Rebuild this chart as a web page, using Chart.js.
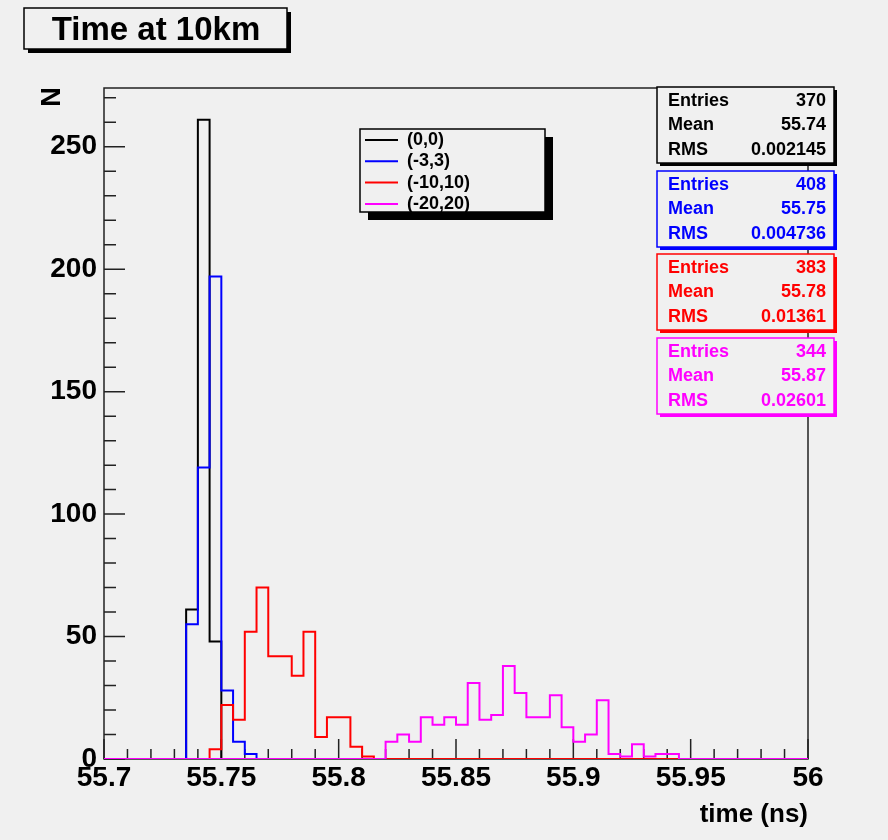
<!DOCTYPE html>
<html>
<head>
<meta charset="utf-8">
<script src="https://cdn.jsdelivr.net/npm/chart.js@4.4.1/dist/chart.umd.min.js"></script>
<style>
html,body{margin:0;padding:0;background:#f0f0f0;}
canvas{display:block;}
</style>
</head>
<body>
<canvas id="c" width="888" height="840"></canvas>
<script>
// ---- Data ----
const binEdges = [
  55.700,55.705,55.710,55.715,55.720,55.725,55.730,55.735,55.740,55.745,
  55.750,55.755,55.760,55.765,55.770,55.775,55.780,55.785,55.790,55.795,
  55.800,55.805,55.810,55.815,55.820,55.825,55.830,55.835,55.840,55.845,
  55.850,55.855,55.860,55.865,55.870,55.875,55.880,55.885,55.890,55.895,
  55.900,55.905,55.910,55.915,55.920,55.925,55.930,55.935,55.940,55.945,
  55.950,55.955,55.960,55.965,55.970,55.975,55.980,55.985,55.990,55.995,
  56.000
];
const countsBlack = [
  0,0,0,0,0,0,0,61,261,48,
  0,0,0,0,0,0,0,0,0,0,
  0,0,0,0,0,0,0,0,0,0,
  0,0,0,0,0,0,0,0,0,0,
  0,0,0,0,0,0,0,0,0,0,
  0,0,0,0,0,0,0,0,0,0
];
const countsBlue = [
  0,0,0,0,0,0,0,55,119,197,
  28,7,2,0,0,0,0,0,0,0,
  0,0,0,0,0,0,0,0,0,0,
  0,0,0,0,0,0,0,0,0,0,
  0,0,0,0,0,0,0,0,0,0,
  0,0,0,0,0,0,0,0,0,0
];
const countsRed = [
  0,0,0,0,0,0,0,0,0,4,
  22,16,52,70,42,42,34,52,9,17,
  17,5,1,0,0,0,0,0,0,0,
  0,0,0,0,0,0,0,0,0,0,
  0,0,0,0,0,0,0,0,0,0,
  0,0,0,0,0,0,0,0,0,0
];
const countsMagenta = [
  0,0,0,0,0,0,0,0,0,0,
  0,0,0,0,0,0,0,0,0,0,
  0,0,0,0,7,10,7,17,14,17,
  14,31,16,18,38,27,17,17,26,13,
  7,10,24,2,1,6,1,2,2,0,
  0,0,0,0,0,0,0,0,0,0
];
const seriesLabels = ['(0,0)','(-3,3)','(-10,10)','(-20,20)'];
const seriesColors = ['#000000','#0000ff','#ff0000','#ff00ff'];
const statsEntries = ['370','408','383','344'];
const statsMean = ['55.74','55.75','55.78','55.87'];
const statsRms = ['0.002145','0.004736','0.01361','0.02601'];
const xTickValues = [55.7,55.75,55.8,55.85,55.9,55.95,56];
const xTickLabels = ['55.7','55.75','55.8','55.85','55.9','55.95','56'];
const yTickValues = [0,50,100,150,200,250];
const yTickLabels = ['0','50','100','150','200','250'];
const titleText = 'Time at 10km';
const xTitle = 'time (ns)';
const yTitle = 'N';

// ---- Chart ----
const FONT = "'Liberation Sans', Arial, Helvetica, sans-serif";
const BG = '#f0f0f0';
Chart.defaults.font.family = FONT;

const seriesCounts = [countsBlack, countsBlue, countsRed, countsMagenta];
function makePoints(counts){
  const pts = counts.map((v,i)=>({x:binEdges[i], y:v}));
  pts.push({x:binEdges[counts.length], y:counts[counts.length-1]});
  return pts;
}
const datasets = seriesCounts.map((c,i)=>({
  label: seriesLabels[i],
  data: makePoints(c),
  borderColor: seriesColors[i],
  backgroundColor: seriesColors[i],
  borderWidth: 2,
  stepped: 'before',
  pointRadius: 0,
  fill: false,
  order: 3 - i
}));

function box(ctx, x, y, w, h, color, shadow, lw){
  ctx.save();
  ctx.fillStyle = color;
  ctx.fillRect(x + shadow, y + shadow, w, h);
  ctx.fillStyle = BG;
  ctx.fillRect(x, y, w, h);
  ctx.strokeStyle = color;
  ctx.lineWidth = lw;
  ctx.strokeRect(x, y, w, h);
  ctx.restore();
}

const decor = {
  id: 'decor',
  beforeDraw(chart){
    const ctx = chart.ctx;
    ctx.save();
    ctx.fillStyle = BG;
    ctx.fillRect(0, 0, chart.width, chart.height);
    ctx.restore();
  },
  beforeDatasetsDraw(chart){
    const ctx = chart.ctx, a = chart.chartArea;
    const xs = chart.scales.x, ys = chart.scales.y;
    ctx.save();
    ctx.strokeStyle = '#222';
    ctx.lineWidth = 1.5;
    ctx.strokeRect(a.left, a.top, a.right - a.left, a.bottom - a.top);
    ctx.beginPath();
    for (let k = 0; k <= 30; k++){
      const v = xs.min + k * 0.01;
      const px = xs.getPixelForValue(v);
      const major = (k % 5 === 0);
      ctx.moveTo(px, a.bottom);
      ctx.lineTo(px, a.bottom - (major ? 20 : 10));
    }
    for (let v = 0; v <= ys.max; v += 10){
      const py = ys.getPixelForValue(v);
      const major = (v % 50 === 0);
      ctx.moveTo(a.left, py);
      ctx.lineTo(a.left + (major ? 21 : 12), py);
    }
    ctx.stroke();
    ctx.restore();
  },
  afterDraw(chart){
    const ctx = chart.ctx, a = chart.chartArea;
    ctx.save();
    // Title box
    box(ctx, 24, 8, 263, 41, '#000', 4, 1.5);
    ctx.fillStyle = '#000';
    ctx.font = 'bold 33px ' + FONT;
    ctx.textAlign = 'center';
    ctx.textBaseline = 'alphabetic';
    ctx.fillText(titleText, 156, 40);

    // x title
    ctx.font = 'bold 26px ' + FONT;
    ctx.textAlign = 'right';
    ctx.fillText(xTitle, a.right, 822);

    // y title (rotated)
    ctx.save();
    ctx.translate(60, a.top + 9);
    ctx.rotate(-Math.PI / 2);
    ctx.font = 'bold 27px ' + FONT;
    ctx.textAlign = 'center';
    ctx.fillText(yTitle, 0, 0);
    ctx.restore();

    // Legend
    const lx = 360, ly = 129, lw = 185, lh = 83;
    box(ctx, lx, ly, lw, lh, '#000', 8, 1.5);
    ctx.font = 'bold 18px ' + FONT;
    ctx.textAlign = 'left';
    ctx.textBaseline = 'middle';
    chart.data.datasets.forEach((ds, i) => {
      const cy = ly + 11 + i * 21.3;
      ctx.strokeStyle = ds.borderColor;
      ctx.lineWidth = 2;
      ctx.beginPath();
      ctx.moveTo(lx + 5, cy);
      ctx.lineTo(lx + 38, cy);
      ctx.stroke();
      ctx.fillStyle = '#000';
      ctx.fillText(ds.label, lx + 47, cy);
    });

    // Stats boxes
    const sx = 657, sw = 177, sh = 76;
    const tops = [87, 171, 254, 338];
    ctx.font = 'bold 18px ' + FONT;
    for (let i = 0; i < 4; i++){
      const sy = tops[i], col = seriesColors[i];
      box(ctx, sx, sy, sw, sh, col, 3, 1.5);
      ctx.fillStyle = col;
      const rows = [['Entries', statsEntries[i]], ['Mean', statsMean[i]], ['RMS', statsRms[i]]];
      rows.forEach((r, j) => {
        const cy = sy + 14 + j * 24.5;
        ctx.textAlign = 'left';
        ctx.fillText(r[0], sx + 11, cy);
        ctx.textAlign = 'right';
        ctx.fillText(r[1], sx + sw - 8, cy);
      });
    }
    ctx.restore();
  }
};

new Chart(document.getElementById('c'), {
  type: 'line',
  data: { datasets },
  options: {
    responsive: false,
    animation: false,
    devicePixelRatio: 1,
    layout: { padding: { top: 88, right: 80, left: 0, bottom: 0 } },
    plugins: { legend: { display: false }, tooltip: { enabled: false }, title: { display: false } },
    scales: {
      x: {
        type: 'linear',
        min: 55.7,
        max: 56,
        grid: { display: false, drawTicks: false },
        border: { display: false },
        afterBuildTicks: s => { s.ticks = xTickValues.map(v => ({ value: v })); },
        afterFit: s => { s.height = 81; },
        ticks: {
          autoSkip: false,
          maxRotation: 0,
          padding: 2,
          color: '#000',
          font: { size: 28, weight: 'bold', family: FONT },
          callback: (v, i) => xTickLabels[i]
        }
      },
      y: {
        type: 'linear',
        min: 0,
        max: 274,
        grid: { display: false, drawTicks: false },
        border: { display: false },
        afterBuildTicks: s => { s.ticks = yTickValues.map(v => ({ value: v })); },
        afterFit: s => { s.width = 104; },
        ticks: {
          padding: 7,
          color: '#000',
          font: { size: 28, weight: 'bold', family: FONT },
          callback: (v, i) => yTickLabels[i]
        }
      }
    }
  },
  plugins: [decor]
});
</script>
</body>
</html>
